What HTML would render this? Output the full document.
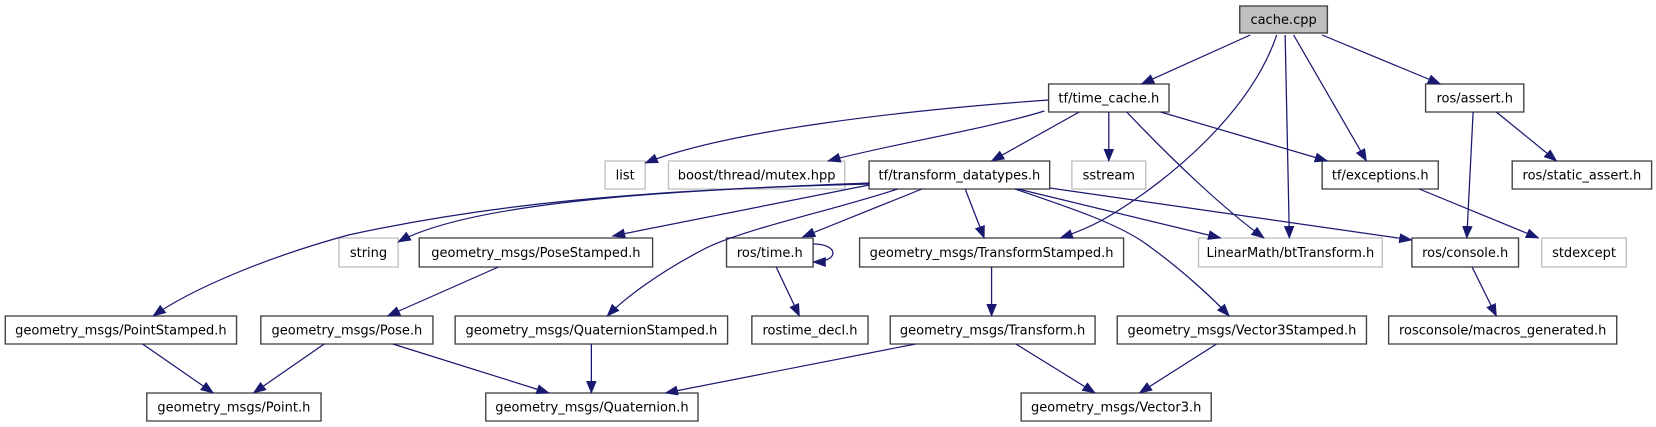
<!DOCTYPE html>
<html><head><meta charset="utf-8">
<style>
html,body{margin:0;padding:0;background:#fff;}
svg{display:block;}
text{font-family:"DejaVu Sans","Liberation Sans",sans-serif;font-size:13px;fill:#000;text-anchor:middle;}
</style></head>
<body>
<svg width="1656" height="427" viewBox="0 0 1656 427" xmlns="http://www.w3.org/2000/svg">
<defs>
<marker id="a" markerWidth="13" markerHeight="10" refX="12" refY="5" orient="auto" markerUnits="userSpaceOnUse">
<path d="M0,0 L13,5 L0,10 Z" fill="#191970"/>
</marker>
</defs>
<g transform="scale(1.056,1)">
<g fill="#fff" stroke="#404040" stroke-width="1.3">
<rect x="1174" y="6" width="83" height="27" fill="#bfbfbf"/>
<rect x="993" y="84" width="114" height="28"/>
<rect x="1350" y="84" width="93" height="28"/>
<rect x="823" y="161" width="171" height="28"/>
<rect x="1252" y="161" width="110" height="28"/>
<rect x="1432" y="161" width="132" height="28"/>
<rect x="397" y="238" width="221" height="29"/>
<rect x="688" y="238" width="82" height="29"/>
<rect x="814" y="238" width="250" height="29"/>
<rect x="1337" y="238" width="101" height="29"/>
<rect x="5" y="316" width="219" height="28"/>
<rect x="247" y="316" width="163" height="28"/>
<rect x="431" y="316" width="258" height="28"/>
<rect x="712" y="316" width="110" height="28"/>
<rect x="843" y="316" width="194" height="28"/>
<rect x="1058" y="316" width="236" height="28"/>
<rect x="1315" y="316" width="216" height="28"/>
<rect x="139" y="393" width="165" height="28"/>
<rect x="460" y="393" width="201" height="28"/>
<rect x="967" y="393" width="180" height="28"/>
</g>
<g fill="#fff" stroke="#c0c0c0" stroke-width="1.3">
<rect x="573" y="161" width="38" height="28"/>
<rect x="633" y="161" width="167" height="28"/>
<rect x="1015" y="161" width="70" height="28"/>
<rect x="321" y="238" width="56" height="29"/>
<rect x="1135" y="238" width="174" height="29"/>
<rect x="1460" y="238" width="80" height="29"/>
</g>
<g fill="none" stroke="#191970" stroke-width="1.2" marker-end="url(#a)">
<path d="M1184,35 L1081,84"/>
<path d="M1209,35 C1185,110 1110,180 1044,220 C1030,228 1018,233 1004,238"/>
<path d="M1217,35 L1221,238"/>
<path d="M1225,35 L1294,161"/>
<path d="M1252,35 L1364,84"/>
<path d="M993,100 C860,110 690,130 611,163"/>
<path d="M989,111 C930,130 840,145 784,161"/>
<path d="M1022,112 L939,161"/>
<path d="M1050,112 L1050,161"/>
<path d="M1067,112 C1110,160 1160,210 1197,238"/>
<path d="M1099,112 L1257,161"/>
<path d="M1395,112 L1389,238"/>
<path d="M1417,112 L1474,161"/>
<path d="M1344,189 L1457,238"/>
<path d="M823,183 C650,190 450,200 377,242"/>
<path d="M823,185 L580,236"/>
<path d="M823,184 C600,190 460,205 330,235 C250,258 180,290 145,316"/>
<path d="M850,189 C790,210 700,230 665,250 C620,275 590,300 575,316"/>
<path d="M873,189 L760,237"/>
<path d="M770,244 C795,244 795,262 770,262"/>
<path d="M914,189 L932,238"/>
<path d="M964,189 L1156,238"/>
<path d="M961,189 C1020,210 1060,225 1084,243 C1120,270 1150,300 1164,316"/>
<path d="M994,188 L1337,240"/>
<path d="M735,267 L757,316"/>
<path d="M472,267 L367,316"/>
<path d="M939,267 L939,316"/>
<path d="M1394,267 L1417,316"/>
<path d="M135,344 L202,393"/>
<path d="M307,344 L240,393"/>
<path d="M372,344 L520,393"/>
<path d="M560,344 L560,393"/>
<path d="M867,344 L630,393"/>
<path d="M962,344 L1037,393"/>
<path d="M1152,344 L1079,393"/>
</g>
</g>
<text x="1283.6" y="24">cache.cpp</text>
<text x="1108.8" y="102.5">tf/time_cache.h</text>
<text x="1474.7" y="102.5">ros/assert.h</text>
<text x="625.2" y="179.5">list</text>
<text x="756.6" y="179.5">boost/thread/mutex.hpp</text>
<text x="959.4" y="179.5">tf/transform_datatypes.h</text>
<text x="1108.8" y="179.5">sstream</text>
<text x="1380.2" y="179.5">tf/exceptions.h</text>
<text x="1581.9" y="179.5">ros/static_assert.h</text>
<text x="368.5" y="257">string</text>
<text x="535.9" y="257">geometry_msgs/PoseStamped.h</text>
<text x="769.8" y="257">ros/time.h</text>
<text x="991.6" y="257">geometry_msgs/TransformStamped.h</text>
<text x="1290.4" y="257">LinearMath/btTransform.h</text>
<text x="1465.2" y="257">ros/console.h</text>
<text x="1584" y="257">stdexcept</text>
<text x="120.9" y="334.5">geometry_msgs/PointStamped.h</text>
<text x="346.9" y="334.5">geometry_msgs/Pose.h</text>
<text x="591.4" y="334.5">geometry_msgs/QuaternionStamped.h</text>
<text x="810" y="334.5">rostime_decl.h</text>
<text x="992.6" y="334.5">geometry_msgs/Transform.h</text>
<text x="1241.9" y="334.5">geometry_msgs/Vector3Stamped.h</text>
<text x="1502.7" y="334.5">rosconsole/macros_generated.h</text>
<text x="233.9" y="411.5">geometry_msgs/Point.h</text>
<text x="591.9" y="411.5">geometry_msgs/Quaternion.h</text>
<text x="1116.2" y="411.5">geometry_msgs/Vector3.h</text>
</svg>
</body></html>
